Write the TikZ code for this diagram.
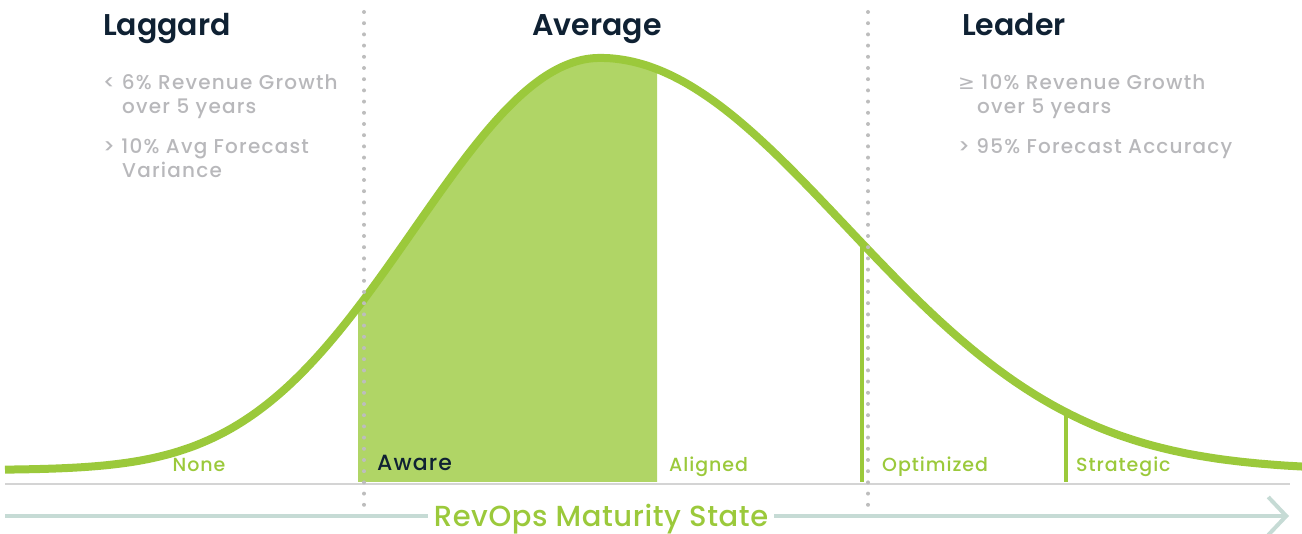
\documentclass[tikz,border=0pt]{standalone}
\usepackage{fontspec}
\setmainfont{Poppins}[BoldFont={Poppins SemiBold}]
\newfontfamily\notefont{Poppins Medium}[LetterSpace=6]
\newfontfamily\stagefont{Poppins Medium}[LetterSpace=5]
\newfontfamily\axisfont{Poppins Medium}[LetterSpace=2]
\newfontfamily\symfont{DejaVu Sans}
\usetikzlibrary{arrows.meta}
\definecolor{leafgreen}{HTML}{9BC93B}
\definecolor{palegreen}{HTML}{B0D566}
\definecolor{navy}{HTML}{0F2133}
\definecolor{softgray}{HTML}{B8B8BB}
\definecolor{dotgray}{HTML}{BDBDBD}
\definecolor{rulegray}{HTML}{D4D4D4}
\definecolor{axisteal}{HTML}{C6DBD5}

\tikzset{
  heading/.style={text=navy, inner sep=0pt, anchor=base west,
    font=\fontsize{30}{34}\selectfont\bfseries},
  note/.style={text=softgray, inner sep=0pt, anchor=base west,
    font=\notefont\fontsize{20}{24}\selectfont},
  stage/.style={text=leafgreen, inner sep=0pt, anchor=base west,
    font=\stagefont\fontsize{19}{24}\selectfont},
  bellcurve/.style={draw=leafgreen, line width=8pt},
  stageline/.style={draw=leafgreen, line width=4pt},
  dotline/.style={draw=dotgray, line width=4pt, line cap=round,
    dash pattern=on 0pt off 11.2pt},
  axisline/.style={draw=axisteal, line width=4pt}
}

\begin{document}
\begin{tikzpicture}[x=1pt, y=-1pt,
  declare function={spread(\t)=(\t<600)*182+(\t>=600)*242;
    tail(\t)=(\t<600)*0.0286+(\t>=600)*0.016;
    bell(\t)=470-412*exp(-0.5*(((\t-600)/spread(\t))^2
      +tail(\t)*((\t-600)/spread(\t))^4));}]
  \useasboundingbox (0,0) rectangle (1302,534);

  % shaded band under the peak
  \fill[palegreen] (358,482) -- plot[domain=358:657, samples=80] (\x,{bell(\x)})
    -- (657,482) -- cycle;
  \draw[rulegray, line width=2pt] (5,484) -- (1290,484);
  \draw[stageline] (862,{bell(862)}) -- (862,482);
  \draw[stageline] (1066,{bell(1066)}) -- (1066,482);
  \draw[bellcurve] plot[domain=5:1302, samples=260, smooth] (\x,{bell(\x)});

  % zone borders
  \draw[dotline] (364,12) -- (364,508);
  \draw[dotline] (868,12) -- (868,508);

  % zones
  \node[heading] (laggard) at (103,36) {Laggard};
  \node[heading, anchor=base] (average) at (597,36) {Average};
  \node[heading] (leader) at (962,36) {Leader};

  \node[note] (lagrev) at (103,90) {<\ 6\% Revenue Growth};
  \node[note] (lagrevb) at (122,114) {over 5 years};
  \node[note] (lagvar) at (103,154) {>\ 10\% Avg Forecast};
  \node[note] (lagvarb) at (122,178) {Variance};

  \node[note] (leadrev) at (958,90) {{\symfont ≥}\ 10\% Revenue Growth};
  \node[note] (leadrevb) at (977,114) {over 5 years};
  \node[note] (leadacc) at (958,154) {>\ 95\% Forecast Accuracy};

  % maturity states
  \node[stage, anchor=base] (none) at (199,472) {None};
  \node[stage, text=navy, font=\stagefont\fontsize{22}{24}\selectfont] (aware) at (377,471) {Aware};
  \node[stage] (aligned) at (669,472) {Aligned};
  \node[stage] (optimized) at (882,472) {Optimized};
  \node[stage] (strategic) at (1076,472) {Strategic};

  % axis
  \coordinate (axisstart) at (5,516);
  \coordinate (axisend) at (1289,516);
  \node[text=leafgreen, inner xsep=6pt, inner ysep=0pt, anchor=base,
    font=\axisfont\fontsize{29}{34}\selectfont] (axis) at (601,526) {RevOps Maturity State};
  \draw[axisline] (axisstart) -- (axisstart -| axis.west);
  \draw[axisline, -{Straight Barb[length=18pt, width=38pt]}]
    (axisend -| axis.east) -- (axisend);
\end{tikzpicture}
\end{document}
